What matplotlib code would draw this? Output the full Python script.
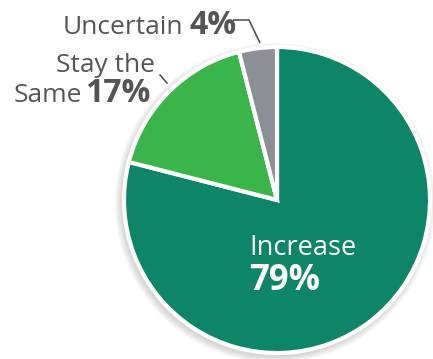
import matplotlib
matplotlib.use("Agg")
import matplotlib.pyplot as plt
from matplotlib.patches import Circle

# Survey answer shares
categories = ["Increase", "Stay the Same", "Uncertain"]
shares = [79, 17, 4]
colors = ["#0e8568", "#3ab54a", "#8d8f96"]

W, H = 433, 359
fig = plt.figure(figsize=(W / 100, H / 100), dpi=100)
ax = fig.add_axes([0, 0, 1, 1])

cx, cy, r = 277, 159, 153

# soft drop shadow beneath the pie
for i in range(8):
    ax.add_patch(Circle((cx - 2, cy - 3), r + 1 + i * 0.9, facecolor="#000000",
                        alpha=0.018, edgecolor="none", zorder=0))

ax.pie(shares, colors=colors, startangle=90, counterclock=False,
       center=(cx, cy), radius=r, frame=True,
       wedgeprops=dict(edgecolor="white", linewidth=3))
ax.set_xlim(0, W)
ax.set_ylim(0, H)
ax.axis("off")

family = ["Open Sans", "DejaVu Sans"]
gray = "#555555"
fs = 19      # label words
fs_pct = 23  # bold percentages

def y(py):
    return H - py

# Uncertain label
ax.text(183, y(34), "Uncertain", ha="right", va="baseline", fontsize=fs,
        color=gray, family=family)
ax.text(189, y(34), f"{shares[2]}%", ha="left", va="baseline", fontsize=fs_pct,
        color=gray, family=family, fontweight="bold")
ax.plot([233, 249, 260], [y(20), y(20), y(43)], color=gray, lw=1.2,
        solid_capstyle="butt")

# Stay the Same label
ax.text(155, y(72), "Stay the", ha="right", va="baseline", fontsize=fs,
        color=gray, family=family)
ax.text(82, y(102), "Same", ha="right", va="baseline", fontsize=fs,
        color=gray, family=family)
ax.text(85, y(102), f"{shares[1]}%", ha="left", va="baseline", fontsize=fs_pct,
        color=gray, family=family, fontweight="bold")
ax.plot([160, 167], [y(75), y(83)], color=gray, lw=1.2)

# Increase label inside the wedge
ax.text(249, y(255), "Increase", ha="left", va="baseline", fontsize=fs + 0.5,
        color="white", family=family)
ax.text(249, y(290), f"{shares[0]}%", ha="left", va="baseline", fontsize=25,
        color="white", family=family, fontweight="bold")

fig.savefig("out.png", dpi=100, facecolor="white")
